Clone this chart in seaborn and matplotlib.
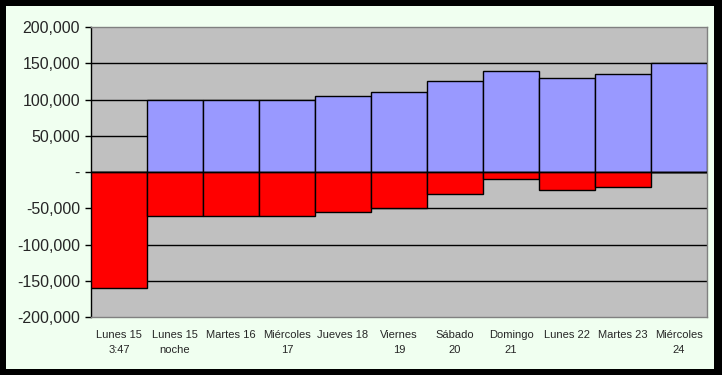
import matplotlib
matplotlib.use('Agg')
import matplotlib.pyplot as plt
import matplotlib.ticker as mticker
from matplotlib.patches import Rectangle
import seaborn as sns
import pandas as pd

days = ['Lunes 15\n3:47', 'Lunes 15\nnoche', 'Martes 16', 'Miércoles\n17', 'Jueves 18',
        'Viernes\n19', 'Sábado\n20', 'Domingo\n21', 'Lunes 22', 'Martes 23', 'Miércoles\n24']
positivos = [0, 100000, 100000, 100000, 105000, 110000, 125000, 140000, 130000, 135000, 150000]
negativos = [-160000, -60000, -60000, -60000, -55000, -50000, -30000, -10000, -25000, -20000, 0]
yticks = [-200000, -150000, -100000, -50000, 0, 50000, 100000, 150000, 200000]

df = pd.DataFrame({'dia': days, 'pos': positivos, 'neg': negativos})

sns.set_style('white')
plt.rcParams['font.family'] = ['Liberation Sans', 'DejaVu Sans']

fig = plt.figure(figsize=(7.22, 3.75), dpi=100)
fig.patch.set_facecolor('black')
# pale inner panel inside the black frame
fig.patches.append(Rectangle((6 / 722, 6 / 375), 708 / 722, 363 / 375,
                             transform=fig.transFigure, facecolor='#F0FFF0',
                             edgecolor='none', zorder=-5))

ax = fig.add_axes([91 / 722, 1 - 317 / 375, 616 / 722, 290 / 375])
ax.set_facecolor('#C0C0C0')

sns.barplot(data=df, x='dia', y='pos', color='#9999FF', width=1, edgecolor='black',
            linewidth=1, saturation=1, ax=ax, zorder=3)
sns.barplot(data=df, x='dia', y='neg', color='#FF0000', width=1, edgecolor='black',
            linewidth=1, saturation=1, ax=ax, zorder=3)

ax.set_ylim(-200000, 200000)
ax.set_xlim(-0.5, len(days) - 0.5)
ax.set_yticks(yticks)
ax.yaxis.set_major_formatter(mticker.FuncFormatter(
    lambda v, p: '-' if v == 0 else f'{int(v):,}'))
for y in yticks:
    if -200000 < y < 200000:
        ax.axhline(y, color='black', linewidth=1, zorder=2)
ax.axhline(0, color='black', linewidth=1, zorder=4)

ax.grid(False)
for side in ['top', 'right', 'bottom']:
    ax.spines[side].set_color('#808080')
    ax.spines[side].set_linewidth(1)
ax.spines['left'].set_color('black')
ax.spines['left'].set_linewidth(1)

ax.tick_params(axis='y', which='major', left=True, length=4, width=1, color='black',
               labelsize=11.5, pad=4)
ax.tick_params(axis='x', bottom=False, labelsize=8, pad=6)
for lbl in ax.get_xticklabels():
    lbl.set_linespacing(1.6)
ax.set_xlabel('')
ax.set_ylabel('')

fig.savefig('out.png', dpi=100, facecolor=fig.get_facecolor())
